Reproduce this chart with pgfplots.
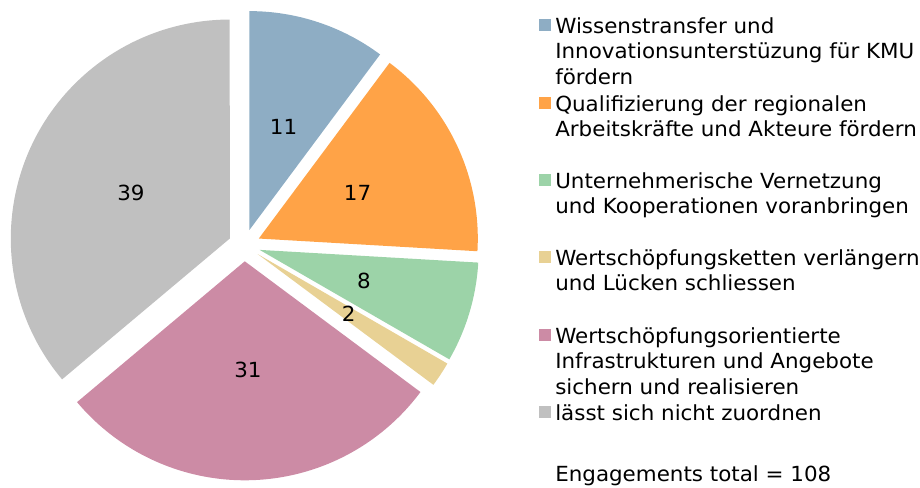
\documentclass[border=0pt]{standalone}
\usepackage{pgfplots}
\usepackage{pgfplotstable}
\pgfplotsset{compat=1.18}
\usepackage{fontspec}
\setmainfont[FakeStretch=1.03]{DejaVu Sans}
\definecolor{cblue}{HTML}{8EADC4}
\definecolor{corange}{HTML}{FFA347}
\definecolor{cgreen}{HTML}{9CD3A8}
\definecolor{cyellow}{HTML}{E8D194}
\definecolor{cpink}{HTML}{CC8BA5}
\definecolor{cgrey}{HTML}{C0C0C0}

\pgfplotstableread{
value color
11 cblue
17 corange
8 cgreen
2 cyellow
31 cpink
39 cgrey
}\piedata

% geometry in pixel units (1 unit = 0.75pt)
\def\cx{244.3}
\def\cy{241.7}
\def\off{16}
\def\Rpt{164.25pt}
\def\lab{125}
\def\total{108}

\newcommand{\legline}[2]{\node[anchor=base west, inner sep=0pt] at (axis cs:555,{487-#1}) {#2};}
\newcommand{\legsq}[2]{\fill[#2] (axis cs:539,{487-#1+2}) rectangle (axis cs:551,{487-#1+14});}

\begin{document}
\begin{tikzpicture}
\begin{axis}[
  x=0.75pt, y=0.75pt,
  xmin=0, xmax=920, ymin=0, ymax=487,
  hide axis, clip=false,
  font=\fontsize{15.6pt}{18pt}\selectfont,
]
\draw[draw=none] (axis cs:0,0) rectangle (axis cs:920,487);
\pgfplotstablegetrowsof{\piedata}
\pgfmathtruncatemacro\nrows{\pgfplotsretval-1}
\def\cumangle{90}
\pgfplotsforeachungrouped \i in {0,...,\nrows}{%
  \pgfplotstablegetelem{\i}{value}\of\piedata \let\val\pgfplotsretval
  \pgfplotstablegetelem{\i}{color}\of\piedata \let\col\pgfplotsretval
  \pgfmathsetmacro\sweep{\val/\total*360}
  \pgfmathsetmacro\endangle{\cumangle-\sweep}
  \pgfmathsetmacro\midangle{\cumangle-\sweep/2}
  \pgfmathsetmacro\ax{\cx+\off*cos(\midangle)}
  \pgfmathsetmacro\ay{\cy+\off*sin(\midangle)}
  \pgfmathsetmacro\lx{\cx+\lab*cos(\midangle)}
  \pgfmathsetmacro\ly{\cy+\lab*sin(\midangle)}
  \edef\temp{\noexpand\fill[\col, overlay] (axis cs:\ax,\ay) -- ++(\cumangle:\Rpt) arc[start angle=\cumangle, end angle=\endangle, radius=\Rpt] -- cycle;
    \noexpand\node[inner sep=0pt, text=black] at (axis cs:\lx,\ly) {\val};}
  \temp
  \let\cumangle\endangle
}
% legend
\legsq{33}{cblue}
\legline{33}{Wissenstransfer und}
\legline{58.5}{Innovationsunterstüzung für KMU}
\legline{84}{fördern}
\legsq{111}{corange}
\legline{111}{Qualifizierung der regionalen}
\legline{136.5}{Arbeitskräfte und Akteure fördern}
\legsq{188}{cgreen}
\legline{188}{Unternehmerische Vernetzung}
\legline{213.5}{und Kooperationen voranbringen}
\legsq{265}{cyellow}
\legline{265}{Wertschöpfungsketten verlängern}
\legline{290.5}{und Lücken schliessen}
\legsq{343}{cpink}
\legline{343}{Wertschöpfungsorientierte}
\legline{368.5}{Infrastrukturen und Angebote}
\legline{394}{sichern und realisieren}
\legsq{420}{cgrey}
\legline{420}{lässt sich nicht zuordnen}
\legline{481}{Engagements total = 108}
\end{axis}
\end{tikzpicture}
\end{document}
